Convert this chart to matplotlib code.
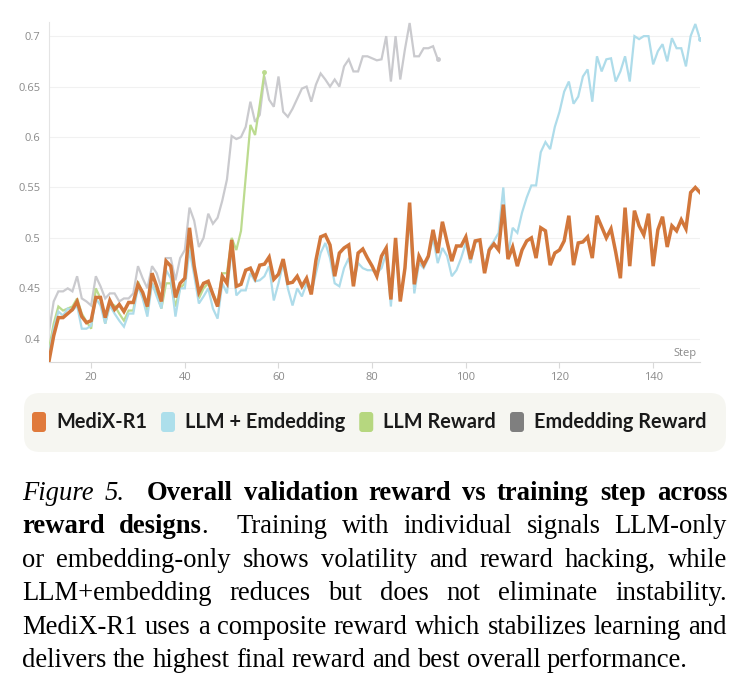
import numpy as np
import matplotlib
matplotlib.use("Agg")
import matplotlib.pyplot as plt
from matplotlib.patches import FancyBboxPatch
from matplotlib.transforms import IdentityTransform

W, H = 745, 675

# validation reward per step (first step = 11)
first_step = 11
medix = [0.378, 0.403, 0.421, 0.421, 0.425, 0.429, 0.437, 0.422, 0.416, 0.418,
         0.441, 0.441, 0.421, 0.438, 0.429, 0.434, 0.427, 0.436, 0.436, 0.454,
         0.446, 0.432, 0.465, 0.452, 0.437, 0.477, 0.472, 0.441, 0.455, 0.460,
         0.510, 0.472, 0.446, 0.455, 0.457, 0.444, 0.432, 0.462, 0.455, 0.498,
         0.452, 0.454, 0.468, 0.470, 0.460, 0.473, 0.474, 0.481, 0.459, 0.464,
         0.479, 0.455, 0.456, 0.462, 0.452, 0.460, 0.444, 0.478, 0.501, 0.503,
         0.493, 0.462, 0.485, 0.490, 0.493, 0.452, 0.485, 0.489, 0.480, 0.472,
         0.462, 0.482, 0.490, 0.439, 0.500, 0.437, 0.470, 0.535, 0.454, 0.482,
         0.473, 0.482, 0.508, 0.485, 0.516, 0.496, 0.477, 0.492, 0.492, 0.501,
         0.479, 0.497, 0.498, 0.465, 0.488, 0.494, 0.488, 0.533, 0.479, 0.491,
         0.472, 0.488, 0.497, 0.500, 0.480, 0.510, 0.507, 0.473, 0.485, 0.488,
         0.497, 0.522, 0.473, 0.495, 0.496, 0.501, 0.480, 0.522, 0.511, 0.500,
         0.509, 0.486, 0.460, 0.530, 0.472, 0.527, 0.512, 0.503, 0.524, 0.472,
         0.508, 0.521, 0.491, 0.512, 0.507, 0.518, 0.509, 0.545, 0.550, 0.545]
llm_emb = [0.385, 0.410, 0.427, 0.423, 0.430, 0.428, 0.433, 0.410, 0.410, 0.413,
           0.440, 0.433, 0.415, 0.433, 0.425, 0.418, 0.412, 0.425, 0.425, 0.452,
           0.440, 0.422, 0.455, 0.442, 0.430, 0.468, 0.460, 0.422, 0.450, 0.450,
           0.488, 0.463, 0.435, 0.442, 0.450, 0.430, 0.420, 0.455, 0.445, 0.490,
           0.443, 0.448, 0.448, 0.465, 0.457, 0.458, 0.462, 0.472, 0.438, 0.455,
           0.475, 0.450, 0.433, 0.450, 0.442, 0.455, 0.445, 0.465, 0.485, 0.495,
           0.480, 0.455, 0.452, 0.470, 0.480, 0.455, 0.475, 0.470, 0.468, 0.468,
           0.465, 0.470, 0.485, 0.432, 0.495, 0.438, 0.470, 0.520, 0.445, 0.475,
           0.470, 0.480, 0.500, 0.475, 0.490, 0.482, 0.462, 0.468, 0.480, 0.495,
           0.475, 0.495, 0.498, 0.470, 0.490, 0.497, 0.505, 0.550, 0.483, 0.510,
           0.505, 0.525, 0.540, 0.552, 0.552, 0.585, 0.595, 0.588, 0.610, 0.625,
           0.645, 0.655, 0.633, 0.640, 0.660, 0.667, 0.635, 0.680, 0.665, 0.677,
           0.678, 0.655, 0.665, 0.680, 0.655, 0.700, 0.697, 0.700, 0.700, 0.672,
           0.685, 0.692, 0.675, 0.698, 0.688, 0.688, 0.670, 0.700, 0.712, 0.697]
llm_only = [0.390, 0.415, 0.432, 0.428, 0.430, 0.432, 0.440, 0.425, 0.417, 0.410,
            0.450, 0.440, 0.415, 0.435, 0.433, 0.425, 0.418, 0.428, 0.428, 0.457,
            0.445, 0.428, 0.455, 0.445, 0.430, 0.455, 0.455, 0.432, 0.450, 0.455,
            0.500, 0.470, 0.440, 0.450, 0.455, 0.445, 0.435, 0.465, 0.465, 0.500,
            0.488, 0.507, 0.560, 0.612, 0.602, 0.632, 0.664]
emb_only = [0.407, 0.437, 0.447, 0.447, 0.450, 0.447, 0.462, 0.440, 0.437, 0.433,
            0.462, 0.452, 0.440, 0.445, 0.445, 0.437, 0.440, 0.440, 0.445, 0.472,
            0.460, 0.450, 0.472, 0.465, 0.450, 0.480, 0.480, 0.458, 0.480, 0.488,
            0.530, 0.517, 0.491, 0.500, 0.524, 0.514, 0.520, 0.537, 0.558, 0.601,
            0.598, 0.600, 0.610, 0.635, 0.615, 0.622, 0.660, 0.637, 0.630, 0.660,
            0.625, 0.620, 0.628, 0.638, 0.648, 0.650, 0.635, 0.652, 0.663, 0.657,
            0.650, 0.657, 0.650, 0.670, 0.677, 0.665, 0.665, 0.680, 0.680, 0.678,
            0.676, 0.677, 0.700, 0.655, 0.700, 0.657, 0.687, 0.713, 0.680, 0.680,
            0.688, 0.688, 0.690, 0.677]

labels = ["MediX-R1", "LLM + Emdedding", "LLM Reward", "Emdedding Reward"]
line_colors = ["#D2773B", "#AEDCEA", "#BCDB8F", "#CACACE"]
legend_colors = ["#E07A3C", "#ADDFEB", "#B6D77F", "#7F7F7F"]
yticks = [0.4, 0.45, 0.5, 0.55, 0.6, 0.65, 0.7]
ytick_labels = ["0.4", "0.45", "0.5", "0.55", "0.6", "0.65", "0.7"]
xticks = [20, 40, 60, 80, 100, 120, 140]

fig = plt.figure(figsize=(W / 100, H / 100), dpi=100)
ax = fig.add_axes([49 / W, 1 - 362 / H, (700 - 49) / W, (362 - 22) / H])

series = [medix, llm_emb, llm_only, emb_only]
widths = [2.5, 1.6, 1.6, 1.6]
zorders = [5, 4, 3, 2]
for vals, col, lw, z in zip(series, line_colors, widths, zorders):
    s = np.arange(first_step, first_step + len(vals))
    ax.plot(s, vals, color=col, lw=lw, zorder=z, solid_joinstyle="miter")
    if vals is not medix:
        ax.plot(s[-1], vals[-1], "o", ms=2.5, color=col, zorder=z)

ax.set_xlim(11, 150)
ax.set_ylim(0.377, 0.714)
ax.set_yticks(yticks)
ax.set_yticklabels(ytick_labels)
ax.set_xticks(xticks)
ax.grid(axis="y", color="#f1f1f1", lw=0.8)
ax.set_axisbelow(True)
for sp in ["top", "right"]:
    ax.spines[sp].set_visible(False)
ax.spines["left"].set_color("#e4e4e4")
ax.spines["bottom"].set_color("#d9d9d9")
ax.tick_params(axis="y", length=0, pad=6, labelsize=8, labelcolor="#8a8a8a")
ax.tick_params(axis="x", length=4, color="#d9d9d9", pad=3, labelsize=8,
               labelcolor="#8a8a8a")
for lab in ax.get_xticklabels() + ax.get_yticklabels():
    lab.set_family("Open Sans")
ax.text(0.995, 0.008, "Step", transform=ax.transAxes, ha="right", va="bottom",
        fontsize=8, color="#8a8a8a", family="Open Sans")

px = IdentityTransform()
renderer = fig.canvas.get_renderer()

# legend strip
box = FancyBboxPatch((24, H - 452), 702, 59,
                     boxstyle="round,pad=0,rounding_size=16",
                     fc="#F6F6F1", ec="none", transform=px)
fig.add_artist(box)
x = 32
for lab, col in zip(labels, legend_colors):
    sw = FancyBboxPatch((x, H - 432), 14, 20,
                        boxstyle="round,pad=0,rounding_size=3",
                        fc=col, ec="none", transform=px)
    fig.add_artist(sw)
    t = fig.text(x + 24, H - 422, lab, transform=px, ha="left", va="center",
                 fontsize=14.3, fontweight="bold", family="Lato", color="#1a1a1a")
    x = x + 24 + t.get_window_extent(renderer).width + 14

# caption, justified word by word
cap = [
    [("Figure", "i", 0), ("5.", "i", 1), ("Overall", "b", 2), ("validation", "b", 1),
     ("reward", "b", 1), ("vs", "b", 1), ("training", "b", 1), ("step", "b", 1),
     ("across", "b", 1)],
    [("reward", "b", 0), ("designs", "b", 1), (".", "n", 0), ("Training", "n", 2),
     ("with", "n", 1), ("individual", "n", 1), ("signals", "n", 1),
     ("LLM-only", "n", 1)],
    [(w, "n", 1) for w in "or embedding-only shows volatility and reward hacking, while".split()],
    [(w, "n", 1) for w in "LLM+embedding reduces but does not eliminate instability.".split()],
    [(w, "n", 1) for w in "MediX-R1 uses a composite reward which stabilizes learning and".split()],
    [(w, "n", 1) for w in "delivers the highest final reward and best overall performance.".split()],
]
cap_size = 19.2
x0, x1 = 22, 727
base = 500
for li, line in enumerate(cap):
    texts = []
    for k, (word, st, gw) in enumerate(line):
        t = fig.text(0, 0, word, transform=px, ha="left", va="baseline",
                     fontsize=cap_size, family="Liberation Serif", color="black",
                     fontstyle="italic" if st == "i" else "normal",
                     fontweight="bold" if st == "b" else "normal")
        texts.append((t, t.get_window_extent(renderer).width, 0 if k == 0 else gw))
    total = sum(w for _, w, _ in texts)
    weights = sum(g for _, _, g in texts)
    if li == len(cap) - 1:
        gap = cap_size * 100 / 72 * 0.25
    else:
        gap = (x1 - x0 - total) / weights
    xx = x0
    y = round(H - (base + li * 33.4))
    for t, w, g in texts:
        xx += g * gap
        t.set_position((xx, y))
        xx += w

fig.savefig("out.png", dpi=100)
